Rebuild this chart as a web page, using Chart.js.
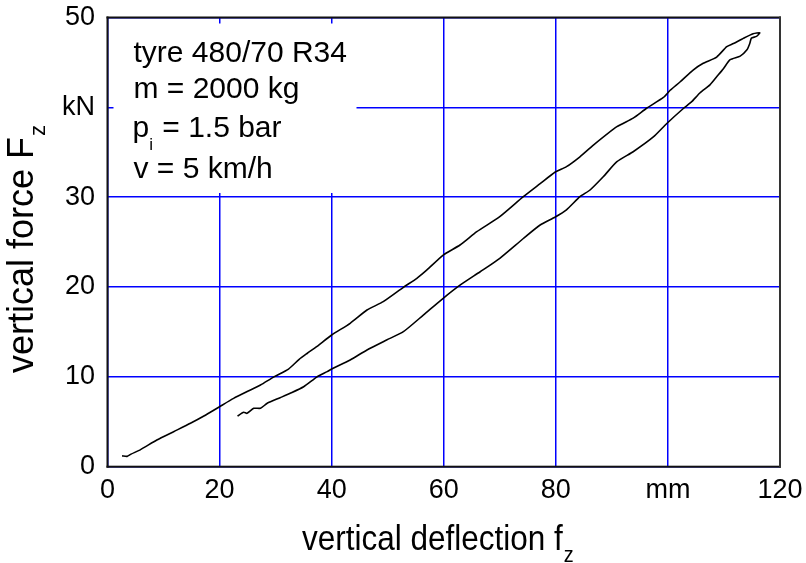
<!DOCTYPE html>
<html>
<head>
<meta charset="utf-8">
<script src="https://cdn.jsdelivr.net/npm/chart.js@4.4.1/dist/chart.umd.min.js"></script>
<style>
  html, body { margin: 0; padding: 0; background: #fff; }
  #wrap { width: 806px; height: 563px; }
</style>
</head>
<body>
<div id="wrap"><canvas id="mychart"></canvas></div>
<script>
// tyre hysteresis loop: loading branch up to the tip, then unloading branch back down
const deflection = [2.6, 3.5, 4.2, 5.9, 8.8, 11.8, 14.8, 17.2, 20.0, 22.5, 25.5, 27.3, 29.7, 32.3, 34.2, 35.6, 37.4,
  40.0, 43.3, 46.3, 49.2, 52.8, 55.2, 57.0, 59.9, 62.9, 65.9, 70.0, 74.2, 77.2, 79.9, 81.9, 84.3, 86.7, 90.9,
  93.8, 96.2, 99.2, 100.4, 102.2, 104.5, 106.3, 108.7, 110.5, 111.7, 113.5, 115.2, 116.4, 115.8, 114.9, 114.6,
  114.1, 112.9, 111.1, 109.9, 108.7, 107.5, 105.7, 104.2, 102.8, 99.8, 97.4, 93.8, 90.9, 88.5, 86.1, 84.3,
  81.9, 79.9, 77.2, 74.2, 70.0, 66.5, 62.9, 59.9, 56.4, 52.8, 49.8, 46.3, 43.3, 40.0, 39.2, 37.4, 35.0,
  32.6, 30.8, 28.5, 27.3, 26.1, 24.9, 24.3, 23.2];
const force = [1.2, 1.15, 1.4, 1.9, 2.97, 3.9, 4.83, 5.64, 6.68, 7.6, 8.54, 9.09, 10.0, 10.87, 11.95, 12.6, 13.4,
  14.66, 15.96, 17.44, 18.37, 19.97, 20.97, 21.9, 23.56, 24.68, 26.16, 27.83, 30.05, 31.5, 32.8, 33.4, 34.5, 35.8, 37.85,
  38.8, 39.9, 41.1, 41.9, 42.85, 44.15, 44.9, 45.6, 46.75, 47.1, 47.7, 48.2, 48.3, 47.9, 47.7, 47.1,
  46.4, 45.7, 45.3, 44.3, 43.4, 42.5, 41.6, 40.6, 39.9, 38.2, 36.7, 35.06, 33.95, 32.3, 30.8, 30.05,
  28.6, 27.8, 26.9, 25.4, 23.2, 21.7, 20.2, 18.74, 16.9, 15.03, 14.1, 12.99, 11.88, 10.87, 10.58, 10.0, 8.9,
  8.17, 7.68, 7.06, 6.5, 6.5, 5.94, 6.05, 5.64];

const xTickValues = [0, 20, 40, 60, 80, 100, 120];
const xTickLabels = ['0', '20', '40', '60', '80', 'mm', '120'];
const yTickValues = [0, 10, 20, 30, 40, 50];
const yTickLabels = ['0', '10', '20', '30', 'kN', '50'];

const infoLines = ['tyre 480/70 R34', 'm = 2000 kg', 'p', 'v = 5 km/h'];

const FONT = '"Liberation Sans", Arial, Helvetica, sans-serif';

const points = deflection.map((d, i) => ({ x: d, y: force[i] }));

const extras = {
  id: 'extras',
  beforeDatasetsDraw(chart) {
    const { ctx, chartArea: a } = chart;
    ctx.save();
    // white box behind the test conditions
    ctx.fillStyle = '#fff';
    ctx.fillRect(a.left + 6, a.top + 6, 243, 169.5);
    ctx.fillStyle = '#000';
    ctx.textBaseline = 'alphabetic';
    ctx.textAlign = 'left';
    ctx.font = '30px ' + FONT;
    const x0 = a.left + 26;
    ctx.fillText(infoLines[0], x0, 61.7);
    ctx.fillText(infoLines[1], x0, 98.4);
    ctx.fillText('p', x0 - 1, 136.7);
    const pw = ctx.measureText('p').width;
    ctx.font = '17px ' + FONT;
    ctx.fillText('i', x0 - 1 + pw, 149.5);
    const iw = ctx.measureText('i').width;
    ctx.font = '30px ' + FONT;
    ctx.fillText(' = 1.5 bar', x0 - 1 + pw + iw + 1, 136.7);
    ctx.fillText(infoLines[3], x0, 178.3);
    ctx.restore();
  },
  afterDraw(chart) {
    const { ctx } = chart;
    const a = chart.chartArea;
    ctx.save();
    // frame round the plot
    ctx.fillStyle = '#111';
    ctx.fillRect(a.left - 1, a.top - 1, a.right - a.left + 2, 2);
    ctx.fillRect(a.left - 1, a.bottom - 1, a.right - a.left + 2, 2);
    ctx.fillRect(a.left - 1, a.top - 1, 2, a.bottom - a.top + 2);
    ctx.fillStyle = '#333';
    ctx.fillRect(a.right - 1, a.top - 1, 2, a.bottom - a.top + 2);

    // x axis title
    ctx.fillStyle = '#000';
    ctx.textBaseline = 'alphabetic';
    ctx.textAlign = 'left';
    ctx.save();
    ctx.translate(302, 550);
    ctx.scale(0.9, 1);
    ctx.font = '35px ' + FONT;
    ctx.fillText('vertical deflection f', 0, 0);
    const w = ctx.measureText('vertical deflection f').width;
    ctx.font = '22px ' + FONT;
    ctx.fillText('z', w + 1, 11.7);
    ctx.restore();

    // y axis title
    ctx.save();
    ctx.translate(33, 373);
    ctx.rotate(-Math.PI / 2);
    ctx.font = '36px ' + FONT;
    ctx.fillText('vertical force F', 0, 0);
    const wy = ctx.measureText('vertical force F').width;
    ctx.font = '22px ' + FONT;
    ctx.fillText('z', wy + 1, 11.7);
    ctx.restore();
    ctx.restore();
  }
};

new Chart(document.getElementById('mychart'), {
  type: 'scatter',
  data: {
    datasets: [{
      data: points,
      showLine: true,
      borderColor: '#000',
      borderWidth: 1.6,
      pointRadius: 0,
      tension: 0.2,
      fill: false
    }]
  },
  options: {
    responsive: true,
    maintainAspectRatio: false,
    animation: false,
    events: [],
    layout: { padding: { left: 0, top: 17.5, right: 26, bottom: 0 } },
    plugins: { legend: { display: false }, tooltip: { enabled: false } },
    scales: {
      x: {
        type: 'linear',
        min: 0, max: 120,
        afterFit(scale) {
          scale.height = 96.3;
          scale.paddingLeft = 0;
          scale.paddingRight = 0;
        },
        afterBuildTicks(scale) { scale.ticks = xTickValues.map(v => ({ value: v })); },
        border: { display: false },
        grid: { color: '#0000ff', lineWidth: 1.5, drawTicks: false },
        ticks: {
          color: '#000',
          padding: 8,
          maxRotation: 0,
          font: { family: FONT, size: 27 },
          callback: (v) => xTickLabels[xTickValues.indexOf(v)]
        }
      },
      y: {
        type: 'linear',
        min: 0, max: 50,
        afterFit(scale) {
          scale.width = 107.5;
          scale.paddingTop = 0;
          scale.paddingBottom = 0;
        },
        afterBuildTicks(scale) { scale.ticks = yTickValues.map(v => ({ value: v })); },
        border: { display: false },
        grid: { color: '#0000ff', lineWidth: 1.5, drawTicks: false },
        ticks: {
          color: '#000',
          padding: 12.5,
          font: { family: FONT, size: 27 },
          callback: (v) => yTickLabels[yTickValues.indexOf(v)]
        }
      }
    }
  },
  plugins: [extras]
});
</script>
</body>
</html>
